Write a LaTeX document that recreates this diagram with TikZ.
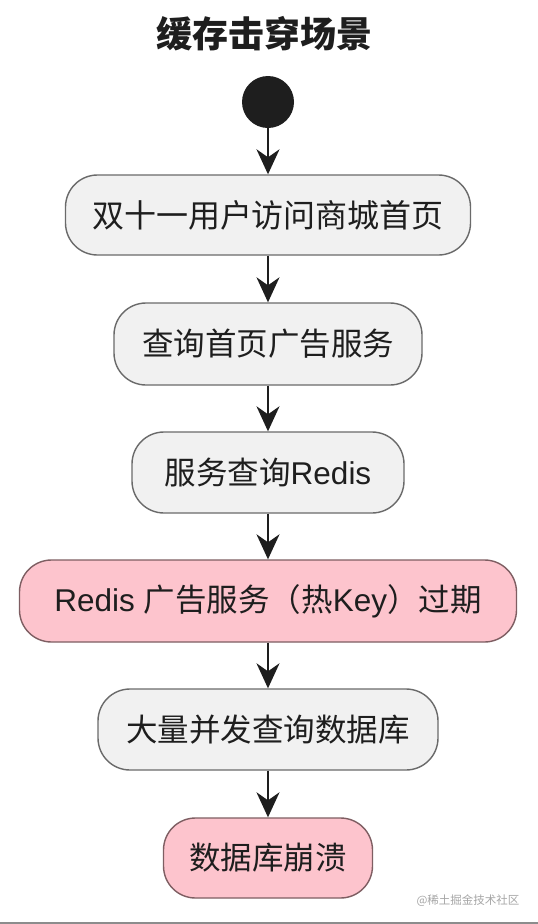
\documentclass[tikz,border=0pt]{standalone}
\usepackage{fontspec}
\setmainfont{Liberation Sans}
\newfontfamily\cjk{Noto Sans CJK SC}
\usetikzlibrary{arrows.meta}
\definecolor{txt}{HTML}{1E1E1E}
\definecolor{boxfill}{HTML}{F1F1F1}
\definecolor{boxline}{HTML}{6A6A6A}
\definecolor{pinkfill}{HTML}{FDC4CD}
\definecolor{pinkline}{HTML}{7E5E62}
\tikzset{
  stepbox/.style={draw=boxline, line width=1.4pt, fill=boxfill, rounded corners=32pt,
    text=txt, font=\fontsize{31.5}{36}\selectfont, inner sep=0pt, align=center},
  hotbox/.style={stepbox, draw=pinkline, fill=pinkfill},
  flow/.style={draw=txt, line width=1.9pt, -{Stealth[length=25pt,width=23pt,inset=8pt]}},
}
\begin{document}
\begin{tikzpicture}[x=1pt,y=-1pt]
\useasboundingbox (0,0) rectangle (538,924);
\fill[white] (0,0) rectangle (538,924);
\node[text=txt, font=\cjk\bfseries\fontsize{36}{40}\selectfont] (title) at (264,34) {缓存击穿场景};
\node[circle, fill=txt, minimum size=52pt, inner sep=0pt] (start) at (268,102) {};
\node[stepbox, minimum width=405pt, minimum height=80pt, font=\fontsize{32}{36}\selectfont] (b1) at (268,215) {\cjk 双十一用户访问商城首页};
\node[stepbox, minimum width=308pt, minimum height=82pt] (b2) at (268,344) {\cjk 查询首页广告服务};
\node[stepbox, minimum width=272pt, minimum height=81pt] (b3) at (268,472.5) {{\cjk 服务查询}Redis};
\node[hotbox, minimum width=497pt, minimum height=82pt] (b4) at (268,601) {Redis {\cjk 广告服务（热}Key{\cjk ）过期}};
\node[stepbox, minimum width=340pt, minimum height=81pt] (b5) at (268,729.5) {\cjk 大量并发查询数据库};
\node[hotbox, minimum width=209pt, minimum height=80pt] (b6) at (268,858) {\cjk 数据库崩溃};
\draw[flow] (start) -- (b1);
\draw[flow] (b1) -- (b2);
\draw[flow] (b2) -- (b3);
\draw[flow] (b3) -- (b4);
\draw[flow] (b4) -- (b5);
\draw[flow] (b5) -- (b6);
\node[text=black!35, font=\cjk\fontsize{11.5}{13}\selectfont, anchor=east] (wm) at (523,901) {@稀土掘金技术社区};
\fill[black!45] (0,921.5) rectangle (538,924);
\end{tikzpicture}
\end{document}
